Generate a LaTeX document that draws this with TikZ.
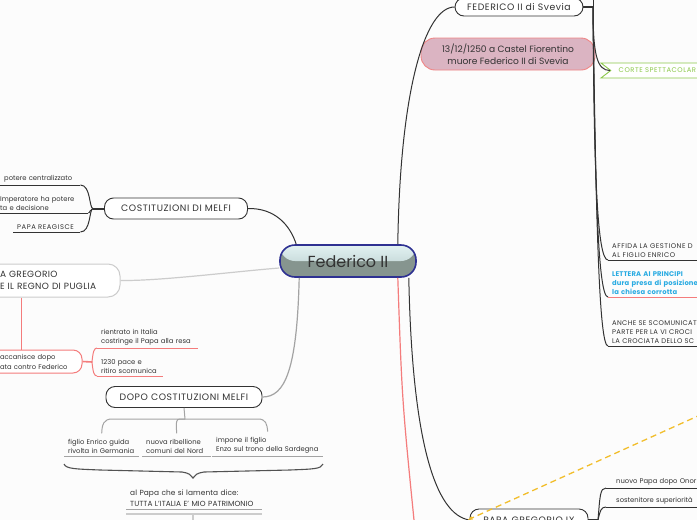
\documentclass[tikz,border=0pt]{standalone}
\usepackage{fontspec}
\setmainfont{Poppins}
\usetikzlibrary{arrows.meta,shapes.symbols,calc}

\definecolor{bgc}{HTML}{FCFCFC}
\definecolor{ink}{HTML}{333333}
\definecolor{lgray}{HTML}{CCCCCC}
\definecolor{mgray}{HTML}{A3A3A3}
\definecolor{redl}{HTML}{F47C7C}
\definecolor{yell}{HTML}{F2BE2C}
\definecolor{greenl}{HTML}{8CC84B}
\definecolor{bluet}{HTML}{29ABE2}
\definecolor{pinkf}{HTML}{DBB4C2}
\definecolor{pinkd}{HTML}{F08585}
\definecolor{cblue}{HTML}{2E3192}
\definecolor{ctop}{HTML}{E2F2F2}
\definecolor{cmid}{HTML}{B4C8C8}
\definecolor{cbot}{HTML}{86958F}

\newcommand{\lowf}{\fontsize{6.8}{9}\selectfont}
\newcommand{\capf}{\fontsize{6.8}{9}\selectfont\addfontfeature{LetterSpace=8}}
\newcommand{\topf}{\fontsize{9.3}{11}\selectfont\addfontfeature{LetterSpace=6}}

\begin{document}
\begin{tikzpicture}[x=1pt,y=-1pt,
  every node/.style={text=ink},
  central/.style={draw=cblue, line width=1.6pt, rounded corners=15pt, minimum width=136pt, minimum height=32pt, fill=cbot, font=\fontsize{16}{18}\selectfont,
    path picture={\shade[top color=ctop,bottom color=cmid] (path picture bounding box.north west) rectangle (path picture bounding box.east);}},
  topic/.style={draw=ink, line width=0.9pt, rounded corners=9pt, fill=white, font=\topf, inner sep=0pt},
  leaf/.style={anchor=south west, inner xsep=4pt, inner ysep=2.5pt, align=left, font=\lowf},
  capleaf/.style={leaf, font=\capf},
  conn/.style={draw=ink, line width=1pt},
  stub/.style={draw=ink, line width=2pt},
  ul/.style={draw=ink, line width=0.8pt},
  gul/.style={draw=mgray, line width=0.8pt},
  rul/.style={draw=redl, line width=0.9pt},
]
\useasboundingbox[fill=bgc] (0,0) rectangle (697,520);

% ---------- central ----------
\node[central] (c) at (348,261) {Federico II};

% ---------- top right ----------
\node[topic, minimum width=128pt, minimum height=18pt] (fs) at (519,7) {FEDERICO II di Svevia};
\node[topic, draw=pinkd, fill=pinkf, minimum width=174pt, minimum height=32pt, rounded corners=14pt, align=center, font=\fontsize{9.1}{12}\selectfont] (dn) at (508,54) {13/12/1250 a Castel Fiorentino\\muore Federico II di Svevia};
\node[signal, signal from=west, signal to=nowhere, signal pointer angle=75, draw=greenl, line width=0.9pt, fill=white, anchor=west, minimum height=15pt, text width=90pt, inner xsep=8pt, inner ysep=2pt, align=left, font=\capf, text=greenl] (ct) at (610,70.5) {CORTE SPETTACOLAR};

\node[capleaf, text width=100pt] (af) at (608,260) {AFFIDA LA GESTIONE D\\AL FIGLIO ENRICO};
\node[leaf, text width=100pt, text=bluet, font=\bfseries\fontsize{6.8}{9}\selectfont\addfontfeature{LetterSpace=2}] (le) at (608,297) {LETTERA AI PRINCIPI\\dura presa di posizione\\la chiesa corrotta};
\node[capleaf, text width=100pt, font=\fontsize{6.8}{9}\selectfont\addfontfeature{LetterSpace=5}] (an) at (608,346) {ANCHE SE SCOMUNICAT\\PARTE PER LA VI CROCI\\LA CROCIATA DELLO SC};
\draw[ul] (af.south west) -- (af.south east);
\draw[rul] (le.south west) -- (le.south east);
\draw[ul] (an.south west) -- (an.south east);

\coordinate (hf) at (593,7);
\coordinate (hup) at (593,-4);
\draw[stub] (fs.east) -- (hf);
\draw[conn] (hf) -- (hup);
\draw[conn] (hf) .. controls (593,55) and (597,70.5) .. (ct.west);
\draw[conn] (hf) .. controls (594,170) and (597,260) .. (af.south west);
\draw[conn] (hf) .. controls (595,190) and (598,297) .. (le.south west);
\draw[conn] (hf) .. controls (596,220) and (599,346) .. (an.south west);
\draw[conn] ([xshift=-19pt]c.north east) .. controls (400,90) and (425,7) .. (fs.west);

% ---------- left: costituzioni ----------
\node[topic, minimum width=143pt, minimum height=21pt] (cm) at (176,208.5) {COSTITUZIONI DI MELFI};
\coordinate (hl) at (93,208.5);
\draw[stub] (cm.west) -- (hl);
\node[leaf, text width=72pt] (p1) at (0,185) {potere centralizzato};
\node[leaf, text width=84pt] (p2) at (-4,213) {Imperatore ha potere\\ta e decisione};
\node[capleaf, text width=59pt] (p3) at (13,232) {PAPA REAGISCE};
\draw[ul] (p1.south west) -- (p1.south east);
\draw[ul] (p2.south west) -- (p2.south east);
\draw[ul] (p3.south west) -- (p3.south east);
\draw[conn] (p1.south east) .. controls (91,185) and (89,208.5) .. (hl);
\draw[conn] (p2.south east) .. controls (90,213) and (90,209) .. (hl);
\draw[conn] (p3.south east) .. controls (91,232) and (89,209) .. (hl);
\draw[conn] (cm.east) .. controls (275,208) and (290,225) .. ([xshift=17pt]c.north west);

% ---------- left: gregorio ----------
\node[draw=lgray, line width=1pt, rounded corners=12pt, fill=white, text width=100pt, inner xsep=20pt, inner ysep=5pt, align=left, minimum height=33pt, font=\fontsize{9}{11.5}\selectfont\addfontfeature{LetterSpace=4}] (ag) at (50,280.5) {A GREGORIO\\E IL REGNO DI PUGLIA};
\draw[draw=lgray, line width=1.2pt] ([yshift=-7pt]c.west) .. controls (230,272) and (160,281) .. (ag.east);

\node[draw=redl, line width=1pt, rounded corners=9pt, fill=white, text width=70pt, inner xsep=12pt, inner ysep=3pt, align=left, minimum height=23pt, font=\fontsize{6.8}{10}\selectfont] (acc) at (35,361.5) {accanisce dopo\\ata contro Federico};
\coordinate (x21) at (21,0);
\draw[draw=redl, line width=1pt] (ag.south -| x21) -- (acc.north -| x21);
\coordinate (hr) at (92,362);
\draw[draw=redl, line width=1.6pt] (acc.east) -- (hr);
\node[leaf, text width=93pt] (r1) at (97,348) {rientrato in Italia\\costringe il Papa alla resa};
\node[leaf, text width=58pt] (r2) at (97,376) {1230 pace e\\ritiro scomunica};
\draw[rul] (r1.south west) -- (r1.south east);
\draw[rul] (r2.south west) -- (r2.south east);
\draw[draw=redl, line width=1pt] (hr) .. controls (93,352) and (94,348) .. (r1.south west);
\draw[draw=redl, line width=1pt] (hr) .. controls (93,372) and (94,376) .. (r2.south west);

% ---------- dopo costituzioni ----------
\node[topic, minimum width=156pt, minimum height=21pt] (dp) at (184,397) {DOPO COSTITUZIONI MELFI};
\draw[draw=mgray, line width=1.2pt] ([xshift=20pt]c.south west) .. controls (297,370) and (285,397) .. (dp.east);
\coordinate (db) at (185,419);
\draw[draw=mgray, line width=1pt] (dp.south) -- (db);
\node[leaf, text width=67pt] (d1) at (64,456) {figlio Enrico guida\\rivolta in Germania};
\node[leaf, text width=61pt] (d2) at (142,456) {nuova ribellione\\comuni del Nord};
\node[leaf, text width=103pt] (d3) at (212,456) {impone il figlio\\Enzo sul trono della Sardegna};
\draw[gul] (d1.south west) -- (d1.south east);
\draw[gul] (d2.south west) -- (d2.south east);
\draw[gul] (d3.south west) -- (d3.south east);
\draw[draw=mgray, line width=1pt] (db) -- (112,419) .. controls (104,419) and (102,424) .. ([yshift=3pt]d1.north);
\draw[draw=mgray, line width=1pt] (db) -- (180,419) .. controls (176,419) and (176,422) .. ([yshift=3pt]d2.north);
\draw[draw=mgray, line width=1pt] (db) -- (258,419) .. controls (266,419) and (267,424) .. ([yshift=3pt]d3.north);

\coordinate (bl) at (64,464);
\coordinate (br) at (323,464);
\coordinate (bm) at (193,478);
\draw[draw=ink!85, line width=1.1pt] (bl) .. controls (66,469) and (76,469) .. (100,470) -- (182,472) .. controls (189,473) and (191,475) .. (bm) .. controls (195,475) and (197,473) .. (204,472) -- (290,470) .. controls (314,469) and (321,469) .. (br);

\node[leaf, text width=128pt, font=\fontsize{7.4}{10.5}\selectfont\addfontfeature{LetterSpace=1}] (ap) at (126,509) {al Papa che si lamenta dice:\\TUTTA L'ITALIA E' MIO PATRIMONIO};
\draw[gul] (ap.south west) -- (ap.south east);
\draw[draw=lgray, line width=2pt] ([yshift=-5pt]ap.south west) -- ([yshift=-5pt]ap.south east);
\draw[draw=lgray, line width=1.5pt] (193,515) -- (193,522);

% ---------- bottom: papa gregorio IX ----------
\node[topic, minimum width=118pt, minimum height=22pt] (pg) at (529,520) {PAPA GREGORIO IX};
\coordinate (hp) at (598,520);
\draw[stub] (pg.east) -- (hp);
\node[leaf, text width=110pt, inner xsep=10pt] (n1) at (606,488) {nuovo Papa dopo Onor};
\node[leaf, text width=110pt, inner xsep=10pt] (n2) at (606,507) {sostenitore superiorità};
\draw[ul] (n1.south west) -- (n1.south east);
\draw[ul] (n2.south west) -- (n2.south east);
\draw[conn] (hp) .. controls (600,496) and (600,488) .. (n1.south west);
\draw[conn] (hp) .. controls (600,511) and (601,507) .. (n2.south west);

\coordinate (rb) at (415,530);
\draw[draw=redl, line width=1.2pt] ([xshift=-19pt]c.south east) .. controls (402,400) .. (rb);
\draw[conn] ([xshift=-8pt]c.south east) .. controls (412,440) and (435,515) .. (pg.west);

\coordinate (yf) at (720,406);
\draw[draw=yell, line width=1.3pt, dash pattern=on 6pt off 4pt, -{Latex[length=5pt,width=4pt]}] (yf) -- ([xshift=-2pt]pg.west);
\end{tikzpicture}
\end{document}
